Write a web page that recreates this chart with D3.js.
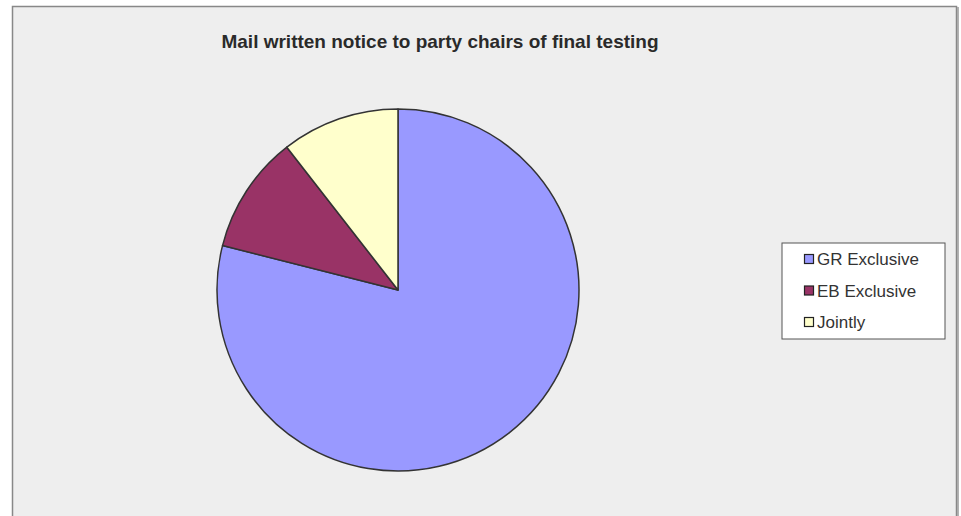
<!DOCTYPE html>
<html>
<head>
<meta charset="utf-8">
<script src="https://cdn.jsdelivr.net/npm/d3@7"></script>
<style>
  body { margin: 0; background: #fff; }
  svg { display: block; font-family: "Liberation Sans", Arial, sans-serif; }
</style>
</head>
<body>
<svg id="chart"></svg>
<script>
// data
var categories = ["GR Exclusive", "EB Exclusive", "Jointly"];
var values = [15, 2, 2];
var colors = ["#9999FF", "#993366", "#FFFFCC"];
var title = "Mail written notice to party chairs of final testing";

var width = 961, height = 516;

var svg = d3.select("#chart")
    .attr("width", width)
    .attr("height", height);

// frame
svg.append("rect")
    .attr("x", 12.5).attr("y", 6.5)
    .attr("width", 944).attr("height", 520)
    .attr("fill", "#EEEEEE")
    .attr("stroke", "#888")
    .attr("stroke-width", 1.5);
svg.append("line")
    .attr("x1", 958).attr("x2", 958)
    .attr("y1", 7).attr("y2", height)
    .attr("stroke", "#999").attr("stroke-width", 1.5);

// title
svg.append("text")
    .attr("x", 440).attr("y", 48)
    .attr("text-anchor", "middle")
    .style("font-size", "19px")
    .style("font-weight", "bold")
    .attr("fill", "#2a2a2a")
    .text(title);

// pie
var data = categories.map(function(c, i) { return {name: c, value: values[i], color: colors[i]}; });

var pie = d3.pie()
    .sort(null)
    .value(function(d) { return d.value; });

var arc = d3.arc().innerRadius(0).outerRadius(181);

var g = svg.append("g")
    .attr("transform", "translate(398,290)");

g.selectAll("path")
    .data(pie(data))
    .enter().append("path")
    .attr("d", arc)
    .attr("fill", function(d) { return d.data.color; })
    .attr("stroke", "#333")
    .attr("stroke-width", 1.5)
    .attr("stroke-linejoin", "round");

// legend
var legend = svg.append("g").attr("transform", "translate(782,243)");
legend.append("rect")
    .attr("x", 0).attr("y", 0)
    .attr("width", 163).attr("height", 96)
    .attr("fill", "#fff")
    .attr("stroke", "#555")
    .attr("stroke-width", 1);

var y = d3.scalePoint().domain(categories).range([16, 79]);

var item = legend.selectAll(".item")
    .data(data)
    .enter().append("g")
    .attr("class", "item")
    .attr("transform", function(d) { return "translate(0," + y(d.name) + ")"; });

item.append("rect")
    .attr("x", 22.5).attr("y", -4.5)
    .attr("width", 9).attr("height", 9)
    .attr("fill", function(d) { return d.color; })
    .attr("stroke", "#222")
    .attr("stroke-width", 1.2);

item.append("text")
    .attr("x", 35).attr("y", 6)
    .style("font-size", "17px")
    .attr("fill", "#333")
    .text(function(d) { return d.name; });
</script>
</body>
</html>
